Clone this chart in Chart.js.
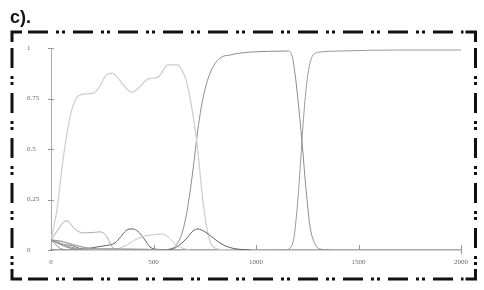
<!DOCTYPE html>
<html>
<head>
<meta charset="utf-8">
<script src="https://cdn.jsdelivr.net/npm/chart.js@4.4.1/dist/chart.umd.min.js"></script>
<style>
  body { margin: 0; background: #fff; }
  #wrap { position: relative; width: 484px; height: 290px; }
  #title { position: absolute; left: 10px; top: 8px; font: bold 18px/18px "Liberation Sans", Arial, sans-serif; color: #111; }
  canvas { position: absolute; left: 0; top: 0; }
</style>
</head>
<body>
<div id="wrap">
  <canvas id="chart" width="484" height="290"></canvas>
  <div id="title">c).</div>
</div>
<script>
// axis ticks
const xTicks = [0, 500, 1000, 1500, 2000];
const yTicks = [0, 0.25, 0.5, 0.75, 1];

// light curve that rises early and collapses around 700
const riseX = [0, 29, 59, 93, 122, 151, 200, 224, 249, 268, 300, 322, 351, 395, 424, 473, 522, 571, 615, 639, 663, 712, 740, 770, 800, 840, 900];
const riseY = [0.05, 0.2, 0.45, 0.66, 0.75, 0.77, 0.775, 0.79, 0.83, 0.866, 0.876, 0.856, 0.82, 0.78, 0.8, 0.846, 0.856, 0.916, 0.916, 0.89, 0.826, 0.53, 0.25, 0.06, 0.01, 0.002, 0];

// plateau between ~700 and ~1200
const plateauX = [0, 532, 580, 615, 644, 668, 693, 717, 741, 776, 824, 873, 922, 1020, 1100, 1156, 1176, 1190, 1205, 1224, 1244, 1263, 1283, 1312, 1360];
const plateauY = [0, 0, 0.005, 0.03, 0.1, 0.22, 0.4, 0.6, 0.75, 0.876, 0.95, 0.965, 0.975, 0.982, 0.984, 0.985, 0.96, 0.876, 0.74, 0.54, 0.3, 0.12, 0.04, 0.005, 0];

// final takeover after ~1200
const finalX = [1100, 1141, 1166, 1185, 1200, 1215, 1224, 1239, 1254, 1278, 1312, 1410, 1700, 2000];
const finalY = [0, 0, 0.01, 0.06, 0.2, 0.4, 0.54, 0.74, 0.876, 0.965, 0.98, 0.985, 0.99, 0.99];

// dark line with two small bumps
const darkX = [0, 40, 93, 160, 224, 268, 312, 340, 365, 385, 400, 424, 458, 483, 522, 571, 605, 639, 668, 693, 717, 751, 785, 824, 873, 922, 971];
const darkY = [0.05, 0.03, 0.01, 0.006, 0.015, 0.022, 0.035, 0.065, 0.095, 0.104, 0.104, 0.092, 0.05, 0.015, 0.003, 0.002, 0.01, 0.035, 0.065, 0.095, 0.104, 0.09, 0.065, 0.035, 0.012, 0.003, 0];

// early low bump
const earlyX = [0, 34, 59, 78, 102, 132, 166, 200, 239, 273, 298, 327, 385];
const earlyY = [0.05, 0.1, 0.135, 0.145, 0.12, 0.092, 0.085, 0.086, 0.09, 0.065, 0.015, 0.004, 0];

// late low bump
const lateX = [0, 68, 166, 312, 361, 410, 458, 507, 541, 571, 605, 639, 678];
const lateY = [0.05, 0.02, 0.005, 0.005, 0.02, 0.05, 0.07, 0.076, 0.08, 0.065, 0.03, 0.01, 0];

// fan of decaying lines near the origin
const fanAX = [0, 20, 45, 70];
const fanAY = [0.05, 0.03, 0.008, 0];
const fanBX = [0, 40, 90, 150, 200];
const fanBY = [0.05, 0.036, 0.016, 0.004, 0];
const fanCX = [0, 60, 110, 170, 230, 300, 450, 580];
const fanCY = [0.05, 0.042, 0.026, 0.012, 0.006, 0.006, 0.004, 0];
const fanDX = [0, 30, 80, 130, 180, 250];
const fanDY = [0.05, 0.046, 0.034, 0.02, 0.008, 0];
const fanEX = [0, 50, 100, 140, 180];
const fanEY = [0.05, 0.03, 0.022, 0.008, 0];

const pts = (xs, ys) => xs.map((x, i) => ({ x, y: ys[i] }));
const line = (xs, ys, color, width) => ({ data: pts(xs, ys), borderColor: color, borderWidth: width || 1 });

const serif = { family: '"Liberation Serif", "DejaVu Serif", serif', size: 7 };

// dash-dot-dot frame, tick marks crossing the axes
const framePlugin = {
  id: 'frame',
  afterDraw(chart) {
    const c = chart.ctx;
    const xs = chart.scales.x, ys = chart.scales.y;
    c.save();
    c.strokeStyle = '#999';
    c.lineWidth = 1;
    ys.ticks.forEach(t => {
      const y = Math.round(ys.getPixelForValue(t.value)) + 0.5;
      c.beginPath(); c.moveTo(xs.left - 3, y); c.lineTo(xs.left + 3, y); c.stroke();
    });
    xs.ticks.forEach(t => {
      if (t.value === 0) return;
      const x = Math.round(xs.getPixelForValue(t.value)) + 0.5;
      c.beginPath(); c.moveTo(x, ys.bottom - 5); c.lineTo(x, ys.bottom + (t.value === 2000 ? 4 : 0)); c.stroke();
    });

    const L = 12, R = 475.5, T = 32, B = 279, k = 10;
    c.strokeStyle = '#111';
    c.lineWidth = 3;
    c.lineCap = 'butt';
    c.beginPath();
    c.moveTo(L, T + k); c.lineTo(L, T); c.lineTo(L + k, T);
    c.moveTo(R - k, T); c.lineTo(R, T); c.lineTo(R, T + k);
    c.moveTo(L, B - k); c.lineTo(L, B); c.lineTo(L + k, B);
    c.moveTo(R - k, B); c.lineTo(R, B); c.lineTo(R, B - k);
    c.stroke();
    c.setLineDash([20, 8, 3, 3, 3, 8]);
    c.beginPath();
    c.moveTo(L + k + 6, T); c.lineTo(R - k - 2, T);
    c.moveTo(L + k + 6, B); c.lineTo(R - k - 2, B);
    c.moveTo(L, T + k + 6); c.lineTo(L, B - k - 2);
    c.moveTo(R, T + k + 6); c.lineTo(R, B - k - 2);
    c.stroke();
    c.restore();
  }
};

new Chart(document.getElementById('chart'), {
  type: 'line',
  data: {
    datasets: [
      line(fanAX, fanAY, '#8f8f8f'),
      line(fanBX, fanBY, '#a0a0a0'),
      line(fanCX, fanCY, '#9a9a9a'),
      line(fanDX, fanDY, '#b5b5b5'),
      line(fanEX, fanEY, '#7a7a7a'),
      line(earlyX, earlyY, '#aaaaaa'),
      line(lateX, lateY, '#c4c4c4'),
      line(darkX, darkY, '#5e5e5e'),
      line(riseX, riseY, '#cccccc', 1.2),
      line(plateauX, plateauY, '#8c8c8c'),
      line(finalX, finalY, '#9a9a9a')
    ]
  },
  options: {
    responsive: false,
    animation: false,
    layout: { padding: { left: 27, top: 48, right: 23, bottom: 10 } },
    plugins: { legend: { display: false }, tooltip: { enabled: false } },
    elements: {
      point: { radius: 0 },
      line: { cubicInterpolationMode: 'monotone', fill: false }
    },
    scales: {
      x: {
        type: 'linear', min: 0, max: 2000,
        afterBuildTicks: s => { s.ticks = xTicks.map(v => ({ value: v })); },
        afterFit: s => { s.height = 30; },
        grid: { display: false, drawTicks: false },
        border: { color: '#aaa', width: 1.5 },
        ticks: { padding: 8, font: serif, color: '#666', maxRotation: 0, callback: v => String(v) }
      },
      y: {
        type: 'linear', min: 0, max: 1,
        afterBuildTicks: s => { s.ticks = yTicks.map(v => ({ value: v })); },
        afterFit: s => { s.width = 24; },
        grid: { display: false, drawTicks: false },
        border: { color: '#aaa', width: 1 },
        ticks: { crossAlign: 'far', font: serif, color: '#666', callback: v => String(v) }
      }
    }
  },
  plugins: [framePlugin]
});
</script>
</body>
</html>
